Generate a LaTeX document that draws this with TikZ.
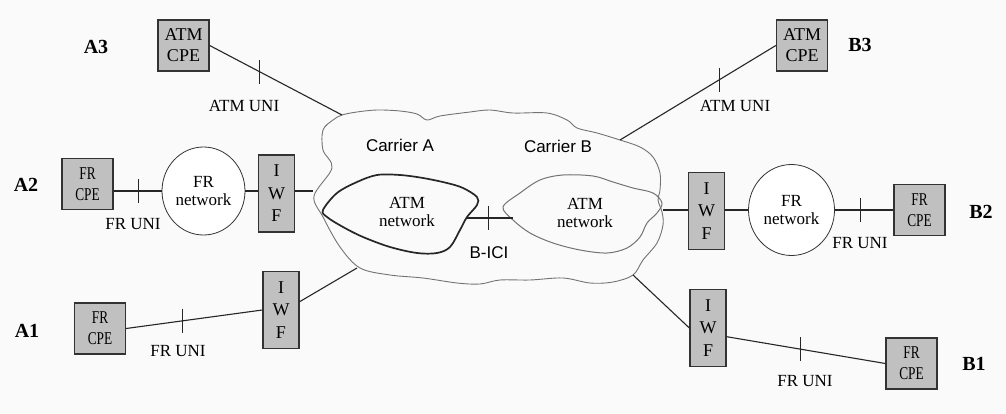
\documentclass[tikz,border=0pt]{standalone}
\usepackage{fontspec}
\setmainfont{Liberation Serif}
\newfontfamily\sansf{Liberation Sans}
\newfontfamily\condf[FakeStretch=0.74]{Liberation Serif}
\usetikzlibrary{shapes.geometric,calc}
\definecolor{boxgray}{HTML}{C0C0C0}
\definecolor{bgcol}{HTML}{FAFAFA}
\begin{document}
\begin{tikzpicture}[x=1pt,y=-1pt,
  lbl/.style={font=\fontsize{17}{18}\selectfont, inner sep=0pt},
  site/.style={font=\bfseries\fontsize{20}{22}\selectfont, inner sep=0pt},
  sanslbl/.style={font=\sansf\fontsize{17}{18}\selectfont, inner sep=0pt},
  boxbase/.style={draw=black!80, line width=1.3pt, fill=boxgray, inner sep=0pt, align=center},
  atmbox/.style={boxbase, minimum width=51pt, minimum height=51pt, font=\fontsize{18}{21}\selectfont},
  frbox/.style={boxbase, minimum width=51pt, minimum height=51pt, font=\condf\fontsize{18}{21}\selectfont},
  iwfbox/.style={boxbase, minimum width=36pt, minimum height=77pt, font=\fontsize{18}{22.5}\selectfont},
  frnet/.style={ellipse, draw=black!80, line width=0.8pt, fill=white, inner sep=0pt, align=center, font=\fontsize{17}{18}\selectfont},
  nettext/.style={inner sep=0pt, align=center, font=\fontsize{17}{17.5}\selectfont},
  link/.style={line width=1.1pt, draw=black!85},
  tickmark/.style={line width=1pt, draw=black!85},
  outercloud/.style={line width=0.9pt, draw=black!55},
  atmcloudA/.style={line width=1.7pt, draw=black!85},
  atmcloudB/.style={line width=1pt, draw=black!55}
]
\fill[bgcol] (0,0) rectangle (1006,414);
\useasboundingbox (0,0) rectangle (1006,414);

% clouds
\draw[outercloud] plot[smooth cycle, tension=0.55] coordinates {
 (342,115) (357,112) (377,110) (400,111) (417,114) (427,120) (440,116) (470,112)
 (490,110) (513,113) (547,113) (567,120) (577,128) (597,133) (620,140) (640,147)
 (653,157) (660,173) (660,190) (658,200) (662,212) (663,225) (657,243) (643,260)
 (633,275) (613,282) (590,283) (563,278) (530,280) (500,280) (480,284) (457,283)
 (423,278) (390,275) (360,268) (340,247) (323,217) (314,196) (332,168) (323,150)
 (323,130) (333,120)};
\draw[atmcloudA] plot[smooth cycle, tension=0.55] coordinates {
 (323,210) (337,193) (357,182) (377,175) (400,175) (423,178) (447,183) (463,188)
 (477,197) (477,205) (467,217) (460,230) (450,247) (437,253) (417,253) (390,247)
 (363,237) (343,227) (327,217)};
\draw[atmcloudB] plot[smooth cycle, tension=0.55] coordinates {
 (503,207) (520,193) (540,180) (563,175) (593,176) (613,182) (633,188) (653,193)
 (662,203) (657,213) (647,223) (640,237) (627,248) (607,253) (580,250) (553,243)
 (530,233) (513,220)};

% cloud attachment points
\coordinate (cA3) at (342,115);
\coordinate (cB3) at (620,140);
\coordinate (cA2) at (313,191);
\coordinate (cB2) at (663,210);
\coordinate (cA1) at (357,268);
\coordinate (cB1) at (633,275);
\coordinate (atmLe) at (467,218);
\coordinate (atmRw) at (513,218);

% cloud texts
\node[sanslbl] (carA) at (400,145) {Carrier A};
\node[sanslbl] (carB) at (558,146) {Carrier B};
\node[sanslbl] (bici) at (489,253) {B-ICI};
\node[nettext] (netL) at (407,212) {ATM\\network};
\node[nettext] (netR) at (585,213) {ATM\\network};

% nodes
\node[atmbox] (atmA3) at (183.5,45.5) {ATM\\CPE};
\node[atmbox] (atmB3) at (802,45.5) {ATM\\CPE};
\node[frbox] (cpeA2) at (87.5,184) {FR\\CPE};
\node[frnet, minimum width=83pt, minimum height=88pt] (circA2) at (203.5,191) {FR\\network};
\node[iwfbox] (iwfA2) at (276.5,193.5) {I\\W\\F};
\node[frbox] (cpeA1) at (100,328.5) {FR\\CPE};
\node[iwfbox] (iwfA1) at (281,310) {I\\W\\F};
\node[iwfbox] (iwfB2) at (706.5,211) {I\\W\\F};
\node[frnet, minimum width=86pt, minimum height=91pt] (circB2) at (791.5,210) {FR\\network};
\node[frbox] (cpeB2) at (919.5,210) {FR\\CPE};
\node[iwfbox] (iwfB1) at (708,328) {I\\W\\F};
\node[frbox] (cpeB1) at (911.5,363.5) {FR\\CPE};

% site labels
\node[site] (lA3) at (96,47) {A3};
\node[site] (lB3) at (860,45) {B3};
\node[site] (lA2) at (26,185) {A2};
\node[site] (lB2) at (981,212) {B2};
\node[site] (lA1) at (27,331) {A1};
\node[site] (lB1) at (974,364) {B1};

% interface labels
\node[lbl] (uA3) at (244,106) {ATM UNI};
\node[lbl] (uB3) at (735,106) {ATM UNI};
\node[lbl] (uA2) at (133,224) {FR UNI};
\node[lbl] (uB2) at (860,243) {FR UNI};
\node[lbl] (uA1) at (178,351) {FR UNI};
\node[lbl] (uB1) at (805,381) {FR UNI};

% connectors
\begin{scope}[on background layer/.style={}]
\draw[link] (atmA3.east) -- coordinate[pos=0.376] (tA3) (cA3);
\draw[link] (atmB3.west) -- coordinate[pos=0.36] (tB3) (cB3);
\draw[link] (cpeA2.east |- circA2) -- coordinate[pos=0.51] (tA2) (circA2.west);
\draw[link] (circA2.east) -- (iwfA2.west |- circA2);
\draw[link] (iwfA2.east |- circA2) -- (cA2);
\draw[link] (cpeA1.east) -- coordinate[pos=0.416] (tA1) (iwfA1.west);
\draw[link] (iwfA1.24) -- (cA1);
\draw[link] (cB2) -- (iwfB2.west |- circB2);
\draw[link] (iwfB2.east |- circB2) -- (circB2.west);
\draw[link] (circB2.east) -- coordinate[pos=0.43] (tB2) (cpeB2.west |- circB2);
\draw[link] (cB1) -- (iwfB1.west);
\draw[link] (iwfB1.-25) -- coordinate[pos=0.4625] (tB1) (cpeB1.west);
\draw[link] (atmLe) -- coordinate[pos=0.457] (tBI) (atmRw);
\end{scope}

% ticks
\foreach \t in {tA3,tB3,tA2,tB2,tA1,tB1,tBI}
  \draw[tickmark] ($(\t)+(0,-12)$) -- ($(\t)+(0,12)$);
\end{tikzpicture}
\end{document}
